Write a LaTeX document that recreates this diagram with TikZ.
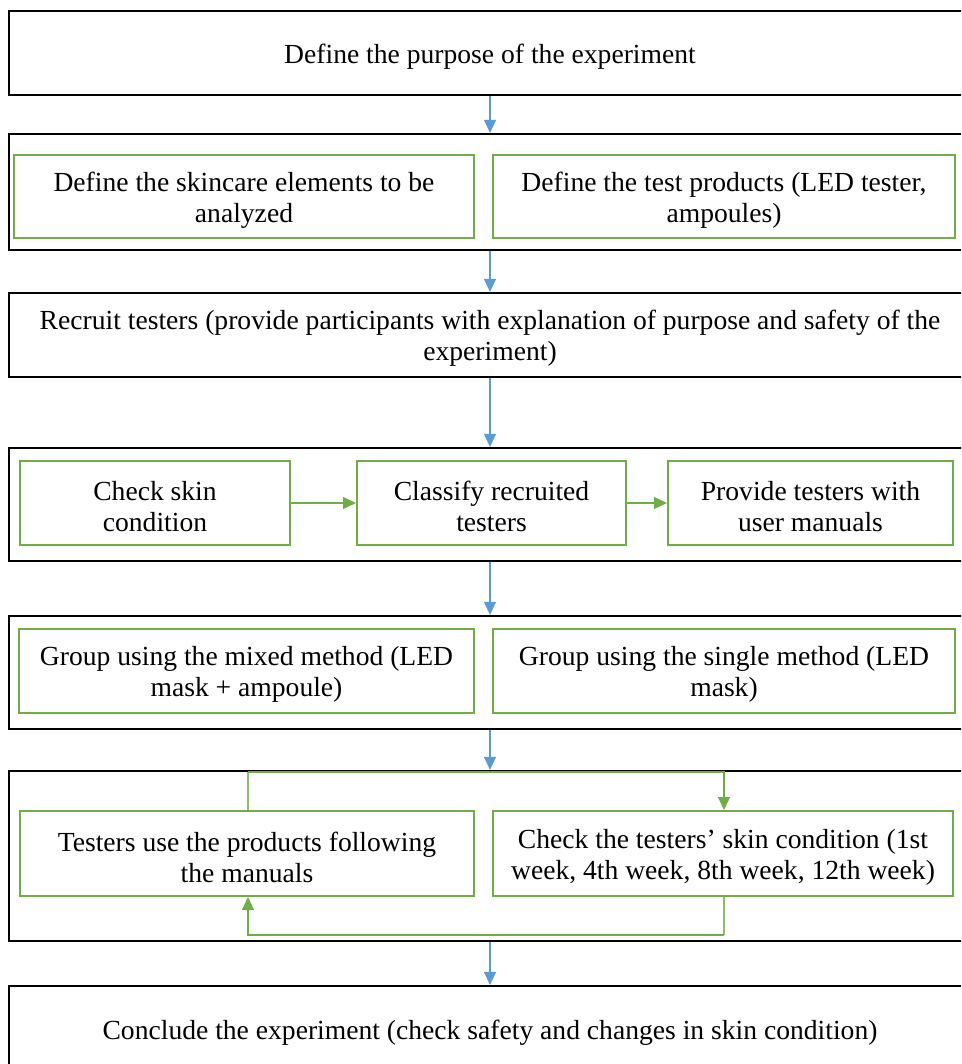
\documentclass[tikz,border=0pt]{standalone}
\usepackage{fontspec}
\setmainfont{Liberation Serif}
\usetikzlibrary{arrows.meta}
\definecolor{boxgreen}{HTML}{70AD47}
\definecolor{arrowblue}{HTML}{5B9BD5}
\begin{document}
\begin{tikzpicture}[x=1pt,y=-1pt,
  outerbox/.style={draw=black,line width=2.2pt,minimum width=962pt,inner sep=0pt},
  greenbox/.style={draw=boxgreen,line width=2pt,inner sep=0pt},
  txt/.style={inner sep=0pt,align=center,font=\fontsize{27.6}{31}\selectfont},
  bluearrow/.style={draw=arrowblue,line width=1.2pt,-{Triangle[width=12pt,length=13pt]}},
  greenarrow/.style={draw=boxgreen,line width=1.2pt,-{Triangle[width=12pt,length=13pt]}},
  greenline/.style={draw=boxgreen!80,line width=1.2pt}]
\clip (0,0) rectangle (961,1064);
% outer boxes
\node[outerbox,minimum height=84pt] (b1) at (490,53) {};
\node[outerbox,minimum height=116pt] (b2) at (490,192) {};
\node[outerbox,minimum height=84pt] (b3) at (490,335) {};
\node[outerbox,minimum height=113pt] (b4) at (490,504.5) {};
\node[outerbox,minimum height=113pt] (b5) at (490,672.5) {};
\node[outerbox,minimum height=170pt] (b6) at (490,856) {};
\node[outerbox,minimum height=86pt] (b7) at (490,1029) {};
\node[txt] (tb1) at ([yshift=-3.5pt]b1.center) {Define the purpose of the experiment};
\node[txt] (tb3) at ([yshift=-3.5pt]b3.center) {Recruit testers (provide participants with explanation of purpose and safety of the\\experiment)};
\node[txt] (tb7) at ([yshift=-3.5pt]b7.center) {Conclude the experiment (check safety and changes in skin condition)};
% row 2
\node[greenbox,minimum width=460pt,minimum height=83pt] (l2) at (244,196.5) {};
\node[greenbox,minimum width=462pt,minimum height=83pt] (r2) at (724,196.5) {};
\node[txt] (tl2) at ([yshift=-3.5pt]l2.center) {Define the skincare elements to be\\analyzed};
\node[txt] (tr2) at ([yshift=-3.5pt]r2.center) {Define the test products (LED tester,\\ampoules)};
% row 4
\node[greenbox,minimum width=270pt,minimum height=84pt] (c1) at (155,503) {};
\node[greenbox,minimum width=269pt,minimum height=84pt] (c2) at (491.5,503) {};
\node[greenbox,minimum width=285pt,minimum height=84pt] (c3) at (810.5,503) {};
\node[txt] (tc1) at ([yshift=-3.5pt]c1.center) {Check skin\\condition};
\node[txt] (tc2) at ([yshift=-3.5pt]c2.center) {Classify recruited\\testers};
\node[txt] (tc3) at ([yshift=-3.5pt]c3.center) {Provide testers with\\user manuals};
% row 5
\node[greenbox,minimum width=455pt,minimum height=84pt] (l5) at (246.5,671) {};
\node[greenbox,minimum width=462pt,minimum height=84pt] (r5) at (724,671) {};
\node[txt] (tl5) at ([yshift=-3.5pt]l5.center) {Group using the mixed method (LED\\mask + ampoule)};
\node[txt] (tr5) at ([yshift=-3.5pt]r5.center) {Group using the single method (LED\\mask)};
% row 6
\node[greenbox,minimum width=454pt,minimum height=85pt] (l6) at (247,853.5) {};
\node[greenbox,minimum width=460pt,minimum height=85pt] (r6) at (723,853.5) {};
\node[txt] (tl6) at ([yshift=-3.5pt]l6.center) {Testers use the products following\\the manuals};
\node[txt] (tr6) at ([yshift=-3.5pt]r6.center) {Check the testers’ skin condition (1st\\week, 4th week, 8th week, 12th week)};
% blue arrows
\foreach \a/\b in {b1/b2,b2/b3,b3/b4,b4/b5,b5/b6,b6/b7}
  \draw[bluearrow] (\a.south) -- (\b.north);
% green arrows in row 4
\draw[greenarrow] (c1.east) -- (c2.west);
\draw[greenarrow] (c2.east) -- (c3.west);
% loop in row 6
\draw[greenline] ([xshift=1pt]l6.north) -- ++(0,-38) coordinate (t1);
\draw[greenarrow] (t1) -| ([xshift=1pt]r6.north);
\draw[greenline] ([xshift=1pt]r6.south) -- ++(0,38) coordinate (t2);
\draw[greenarrow] (t2) -| ([xshift=1pt]l6.south);
\end{tikzpicture}
\end{document}
